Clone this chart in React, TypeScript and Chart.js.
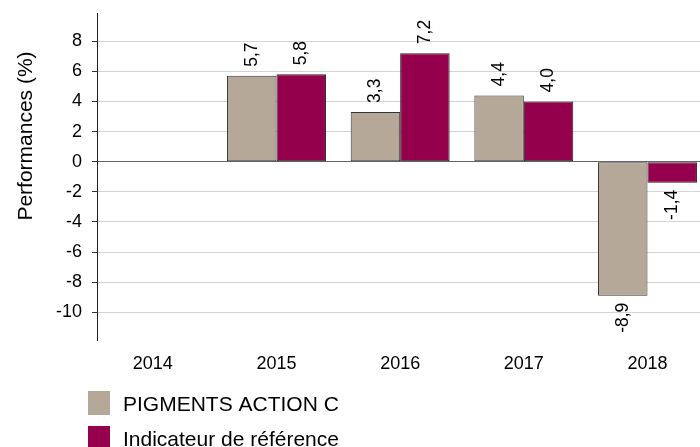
import React, { useEffect, useRef } from 'react';
import { Chart, registerables } from 'chart.js';

Chart.register(...registerables);

const years = ['2014', '2015', '2016', '2017', '2018'];
const yearIndex = [0, 1, 2, 3, 4];
const fundValues: (number | null)[] = [null, 5.7, 3.3, 4.4, -8.9];
const benchValues: (number | null)[] = [null, 5.8, 7.2, 4.0, -1.4];
const yTickValues = [-10, -8, -6, -4, -2, 0, 2, 4, 6, 8];
const seriesNames = ['PIGMENTS ACTION C', 'Indicateur de référence'];
const seriesColors = ['#B5A898', '#94004B'];
const yTitle = 'Performances (%)';

const FONT = "'Liberation Sans', Arial, sans-serif";

const fmt = (v: number) => v.toFixed(1).replace('.', ',');

const labelsPlugin = {
  id: 'barLabels',
  afterDatasetsDraw(chart: any) {
    const ctx = chart.ctx;
    ctx.save();
    ctx.font = `17.5px ${FONT}`;
    ctx.fillStyle = '#000';
    ctx.textBaseline = 'middle';
    chart.data.datasets.forEach((ds: any, di: number) => {
      const meta = chart.getDatasetMeta(di);
      meta.data.forEach((el: any, i: number) => {
        const v = ds.data[i];
        if (v === null || v === undefined) return;
        ctx.save();
        if (v >= 0) {
          ctx.translate(el.x, el.y - 9);
          ctx.rotate(-Math.PI / 2);
          ctx.textAlign = 'left';
        } else {
          ctx.translate(el.x, el.y + 7);
          ctx.rotate(-Math.PI / 2);
          ctx.textAlign = 'right';
        }
        ctx.fillText(fmt(v), 0, 0);
        ctx.restore();
      });
    });
    ctx.restore();
  },
};

const decorPlugin = {
  id: 'decor',
  afterDraw(chart: any) {
    const ctx = chart.ctx;
    ctx.save();
    ctx.font = `21px ${FONT}`;
    ctx.fillStyle = '#000';
    ctx.textAlign = 'center';
    ctx.textBaseline = 'middle';
    ctx.translate(26, 136);
    ctx.rotate(-Math.PI / 2);
    ctx.fillText(yTitle, 0, 0);
    ctx.restore();

    ctx.save();
    ctx.font = `21px ${FONT}`;
    ctx.textAlign = 'left';
    ctx.textBaseline = 'alphabetic';
    seriesNames.forEach((name, i) => {
      const top = 391 + i * 35;
      ctx.fillStyle = seriesColors[i];
      ctx.fillRect(88, top, 22, 24);
      ctx.fillStyle = '#000';
      ctx.fillText(name, 123, top + 20);
    });
    ctx.restore();
  },
};

export default function App() {
  const ref = useRef<HTMLCanvasElement>(null);

  useEffect(() => {
    if (!ref.current) return;
    Chart.defaults.font.family = FONT;
    const chart = new Chart(ref.current, {
      type: 'bar',
      data: {
        labels: yearIndex as any,
        datasets: [
          {
            label: seriesNames[0],
            data: fundValues as any,
            backgroundColor: seriesColors[0],
            borderColor: '#333',
            borderWidth: 1,
            borderSkipped: false,
            categoryPercentage: 0.8,
            barPercentage: 1.0,
          },
          {
            label: seriesNames[1],
            data: benchValues as any,
            backgroundColor: seriesColors[1],
            borderColor: '#222',
            borderWidth: 1,
            borderSkipped: false,
            categoryPercentage: 0.8,
            barPercentage: 1.0,
          },
        ],
      },
      options: {
        responsive: false,
        animation: false,
        events: [],
        layout: { padding: { top: 13, left: 0, right: 0, bottom: 0 } },
        plugins: {
          legend: { display: false },
          tooltip: { enabled: false },
        },
        scales: {
          x: {
            type: 'linear',
            offset: false,
            min: -0.4515,
            max: 4.554,
            grid: { display: false, offset: false, drawTicks: false },
            border: { display: false },
            afterFit: (s: any) => {
              s.height = 107;
              s.paddingLeft = 0;
              s.paddingRight = 0;
            },
            afterBuildTicks: (s: any) => {
              s.ticks = yearIndex.map((v) => ({ value: v }));
            },
            ticks: {
              includeBounds: false,
              stepSize: 1,
              padding: 13,
              color: '#000',
              font: { size: 18 },
              maxRotation: 0,
              autoSkip: false,
              callback: (v: any) => years[Math.round(Number(v))] ?? '',
            },
          },
          y: {
            min: -11.84,
            max: 9.87,
            afterFit: (s: any) => {
              s.width = 97;
              s.paddingTop = 0;
              s.paddingBottom = 0;
            },
            afterBuildTicks: (s: any) => {
              s.ticks = yTickValues.map((v) => ({ value: v }));
            },
            ticks: {
              includeBounds: false,
              stepSize: 2,
              padding: 10,
              color: '#000',
              font: { size: 18 },
            },
            grid: {
              color: (c: any) => (c.tick && c.tick.value === 0 ? '#666' : '#d4d4d4'),
              tickColor: '#333',
              tickLength: 5,
              lineWidth: 1,
            },
            border: { display: true, color: '#222', width: 1 },
          },
        },
      } as any,
      plugins: [labelsPlugin, decorPlugin],
    });
    return () => chart.destroy();
  }, []);

  return (
    <div style={{ position: 'absolute', left: 0, top: 0, width: 700, height: 447, overflow: 'hidden', background: '#fff' }}>
      <canvas ref={ref} width={716} height={447} style={{ display: 'block' }} />
    </div>
  );
}
